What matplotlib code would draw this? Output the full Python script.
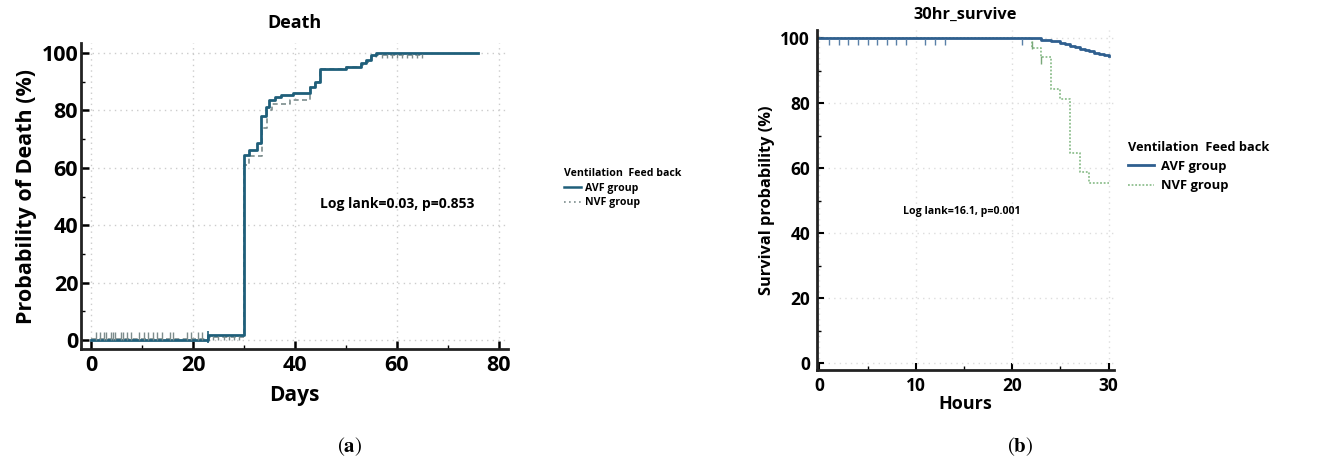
import matplotlib
matplotlib.use("Agg")
import matplotlib.pyplot as plt
from matplotlib.ticker import MultipleLocator
from matplotlib.lines import Line2D

plt.rcParams['font.family'] = ['Open Sans', 'DejaVu Sans']
plt.rcParams['mathtext.fontset'] = 'stix'

# ---------------- Panel (a): Death ----------------
a_title = "Death"
a_xlabel = "Days"
a_ylabel = "Probability of Death (%)"
a_stat = "Log lank=0.03, p=0.853"
avf_a_days = [0, 23, 30, 31, 32.5, 33.3, 34.4, 35, 36, 37.3, 39.7, 43, 44, 45, 50, 53, 54, 55, 56, 76]
avf_a_prob = [0, 1.7, 64.5, 66.2, 68.5, 78, 81.3, 83.6, 84.8, 85.4, 86, 88, 90, 94.6, 95.2, 96.4, 97.6, 99.3, 99.9, 99.9]
nvf_a_days = [0, 23, 30, 31, 33.5, 34.5, 35.5, 39, 43, 44, 45, 50, 53, 54, 55, 56, 65]
nvf_a_prob = [0.3, 1.2, 61, 64, 74, 80, 82.4, 83.8, 88, 90, 94.3, 95, 96, 97, 98.5, 99.3, 99.3]
nvf_a_cens_early = [0.9, 1.8, 2.5, 3.0, 3.9, 4.3, 4.8, 5.8, 6.3, 7.0, 7.9, 9.4, 10.3, 11.2,
                    12.1, 13.0, 13.9, 15.5, 16.1, 18.8, 19.7, 20.9, 21.8]
nvf_a_cens_mid = [24, 25, 26, 27, 28, 29]
nvf_a_cens_late = [57, 58, 59, 60, 61, 62, 63, 64, 65]
avf_a_cens = [23]

# ---------------- Panel (b): 30hr_survive ----------------
b_title = "30hr_survive"
b_xlabel = "Hours"
b_ylabel = "Survival probability (%)"
b_stat = "Log lank=16.1, p=0.001"
avf_b_hours = [0, 23, 24, 25, 25.5, 26, 26.5, 27, 27.5, 28, 28.5, 29, 29.5, 30]
avf_b_surv = [100, 99.5, 99.2, 98.6, 98.2, 97.8, 97.4, 96.9, 96.5, 96.1, 95.6, 95.2, 94.8, 94.7]
nvf_b_hours = [0, 22, 23, 24, 25, 26, 27, 28, 30]
nvf_b_surv = [100, 97.2, 94.4, 84.4, 81.3, 64.7, 58.8, 55.4, 55.4]
avf_b_cens = [1, 2, 3, 4, 5, 6, 7, 8, 9, 11, 12, 13, 21]
nvf_b_cens = [22, 23]

legend_title = "Ventilation  Feed back"
legend_labels = ["AVF group", "NVF group"]

W, H = 1332, 463
fig = plt.figure(figsize=(W / 100, H / 100), dpi=100)

def fx(px):
    return px / W

def fy(py):
    return 1 - py / H

# Panel a axes
axA = fig.add_axes([fx(81), fy(349), fx(508 - 81), (349 - 43) / H])
c_avf_a = "#1f5f7a"
c_nvf_a = "#7c8c8c"
axA.step(nvf_a_days, nvf_a_prob, where='post', color=c_nvf_a, lw=1.2, ls=(0, (3, 2)))
axA.step(avf_a_days, avf_a_prob, where='post', color=c_avf_a, lw=2.0)
axA.plot(nvf_a_cens_early, [1.6] * len(nvf_a_cens_early), ls='none', marker='|',
         ms=6, mew=1.0, color=c_nvf_a)
axA.plot(nvf_a_cens_mid, [0.8] * len(nvf_a_cens_mid), ls='none', marker='|',
         ms=3, mew=1.0, color=c_nvf_a)
axA.plot(nvf_a_cens_late, [99.0] * len(nvf_a_cens_late), ls='none', marker='|',
         ms=3, mew=1.0, color=c_nvf_a)
axA.plot(avf_a_cens, [1.0] * len(avf_a_cens), ls='none', marker='|',
         ms=8, mew=1.2, color=c_avf_a)
axA.set_xlim(-1.96, 81.8)
axA.set_ylim(-3.1, 103.5)
axA.xaxis.set_major_locator(MultipleLocator(20))
axA.xaxis.set_minor_locator(MultipleLocator(10))
axA.yaxis.set_major_locator(MultipleLocator(20))
axA.yaxis.set_minor_locator(MultipleLocator(10))
for s in ['top', 'right']:
    axA.spines[s].set_visible(False)
for s in ['left', 'bottom']:
    axA.spines[s].set_linewidth(2.0)
    axA.spines[s].set_color('#222222')
axA.tick_params(which='major', direction='in', length=6, width=1.8, labelsize=15.5)
axA.tick_params(axis='y', which='major', pad=2)
axA.tick_params(axis='x', which='major', pad=4)
axA.tick_params(which='minor', direction='in', length=3, width=1.0)
for lab in axA.get_xticklabels() + axA.get_yticklabels():
    lab.set_fontweight('bold')
axA.grid(True, which='major', color='#cccccc', ls=(0, (1, 3)), lw=1.0)
axA.set_title(a_title, fontsize=13, fontweight='bold', pad=11)
axA.set_xlabel(a_xlabel, fontsize=15, fontweight='bold', labelpad=7)
axA.set_ylabel(a_ylabel, fontsize=15.5, fontweight='bold', labelpad=3)
axA.text(0.56, 0.46, a_stat, transform=axA.transAxes, fontsize=10, fontweight='bold')

handlesA = [Line2D([], [], color=c_avf_a, lw=1.8),
            Line2D([], [], color=c_nvf_a, lw=1.2, ls=(0, (1, 2)))]
legA = fig.legend(handlesA, legend_labels, title=legend_title, loc='upper left',
                  bbox_to_anchor=(fx(564), fy(168)), frameon=False, fontsize=7.6,
                  title_fontproperties={'size': 7.6, 'weight': 'bold'},
                  handlelength=1.6, handletextpad=0.4, labelspacing=0.3,
                  borderaxespad=0, borderpad=0)
legA._legend_box.align = "left"
legA._legend_box.sep = 3
for t in legA.get_texts():
    t.set_fontweight('bold')

# Panel b axes
axB = fig.add_axes([fx(817), fy(370), fx(1114 - 817), (370 - 30) / H])
c_avf_b = "#2f5f8f"
c_nvf_b = "#8fbf8f"
axB.step(nvf_b_hours, nvf_b_surv, where='post', color=c_nvf_b, lw=1.3, ls=(0, (1, 1)))
axB.step(avf_b_hours, avf_b_surv, where='post', color=c_avf_b, lw=2.0)
axB.plot(avf_b_cens, [99.0] * len(avf_b_cens), ls='none', marker='|', ms=5,
         mew=1.0, color='#5a80a8')
axB.plot(nvf_b_cens, [98.0, 93.5], ls='none', marker='|', ms=6, mew=1.0, color='#7aa87a')
axB.set_xlim(-0.24, 30.55)
axB.set_ylim(-2.1, 102.6)
axB.xaxis.set_major_locator(MultipleLocator(10))
axB.xaxis.set_minor_locator(MultipleLocator(5))
axB.yaxis.set_major_locator(MultipleLocator(20))
axB.yaxis.set_minor_locator(MultipleLocator(10))
for s in ['top', 'right']:
    axB.spines[s].set_visible(False)
for s in ['left', 'bottom']:
    axB.spines[s].set_linewidth(2.0)
    axB.spines[s].set_color('#222222')
axB.tick_params(which='major', direction='in', length=5, width=1.5, labelsize=12.5, pad=5)
axB.tick_params(which='minor', direction='in', length=3, width=1.0)
for lab in axB.get_xticklabels() + axB.get_yticklabels():
    lab.set_fontweight('bold')
axB.grid(True, which='major', color='#dddddd', ls=(0, (1, 3)), lw=1.0)
axB.set_title(b_title, fontsize=11.8, fontweight='bold', pad=8)
axB.set_xlabel(b_xlabel, fontsize=13, fontweight='bold', labelpad=0)
axB.set_ylabel(b_ylabel, fontsize=11.8, fontweight='bold', labelpad=4)
axB.text(0.29, 0.46, b_stat, transform=axB.transAxes, fontsize=7.6, fontweight='bold')

handlesB = [Line2D([], [], color=c_avf_b, lw=2.0),
            Line2D([], [], color=c_nvf_b, lw=1.3, ls=(0, (1, 1)))]
legB = fig.legend(handlesB, legend_labels, title=legend_title, loc='upper left',
                  bbox_to_anchor=(fx(1128), fy(141)), frameon=False, fontsize=9.4,
                  title_fontproperties={'size': 9.2, 'weight': 'bold'},
                  handlelength=2.0, handletextpad=0.5, labelspacing=0.5,
                  borderaxespad=0, borderpad=0)
legB._legend_box.align = "left"
legB._legend_box.sep = 4
for t in legB.get_texts():
    t.set_fontweight('bold')

# captions
fig.text(fx(350), fy(447), r'$(\mathbf{a})$', ha='center', va='center', fontsize=15)
fig.text(fx(1020), fy(447), r'$(\mathbf{b})$', ha='center', va='center', fontsize=15)

fig.savefig("out.png", dpi=100)
